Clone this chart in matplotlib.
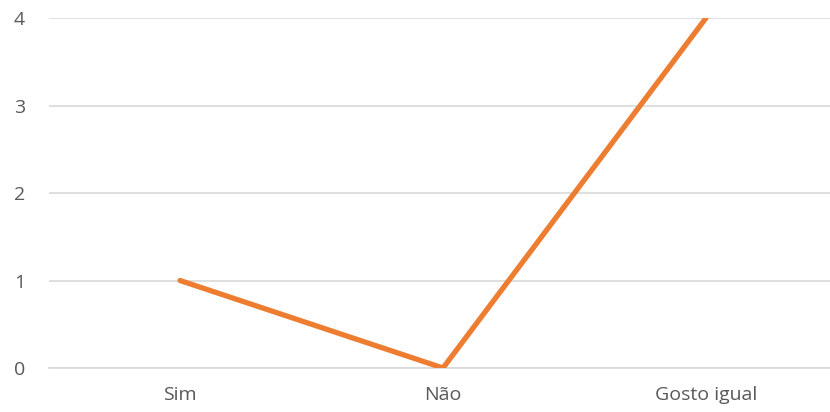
import matplotlib
matplotlib.use('Agg')
import matplotlib.pyplot as plt

categorias = ['Sim', 'Não', 'Gosto igual']
valores = [1, 0, 4]
yticks = [0, 1, 2, 3, 4]

plt.rcParams['font.family'] = ['Open Sans', 'DejaVu Sans']

fig = plt.figure(figsize=(8.30, 4.12), dpi=100)
ax = fig.add_axes([48.5 / 830, 44 / 412, 789 / 830, 350 / 412])

x = list(range(len(categorias)))
ax.plot(x, valores, color='#ED7D31', linewidth=3.8, solid_capstyle='round', zorder=3)

ax.set_xlim(-0.5, len(categorias) - 0.5)
ax.set_ylim(0, 4)
ax.set_yticks(yticks)
ax.set_xticks(x)
ax.set_xticklabels(categorias)

ax.grid(axis='y', color='#D9D9D9', linewidth=1.2)
ax.set_axisbelow(True)
for s in ['top', 'right', 'left']:
    ax.spines[s].set_visible(False)
ax.spines['bottom'].set_color('#D9D9D9')
ax.spines['bottom'].set_linewidth(1.2)

ax.tick_params(axis='both', length=0, labelsize=14, labelcolor='#595959')
ax.tick_params(axis='y', pad=17)
ax.tick_params(axis='x', pad=13)

fig.savefig('out.png', dpi=100)
